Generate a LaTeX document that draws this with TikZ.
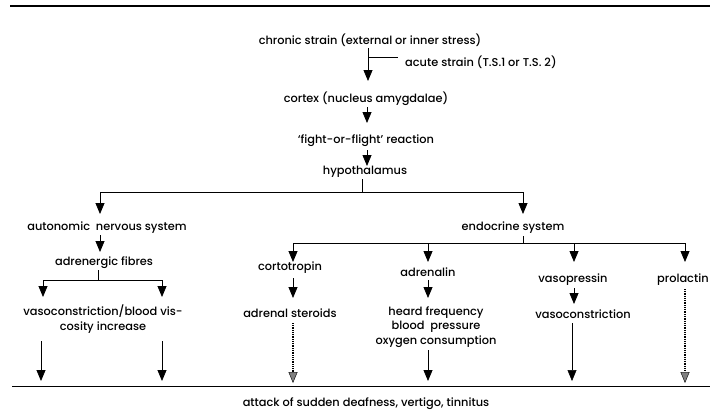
\documentclass[tikz,border=0pt]{standalone}
\usepackage{fontspec}
\setmainfont{Poppins}[UprightFont=* Medium]
\usetikzlibrary{arrows.meta}
\begin{document}
\begin{tikzpicture}[x=1bp,y=-1bp,
  lbl/.style={font=\fontsize{11.4}{14.5}\selectfont, inner sep=0pt, align=center},
  conn/.style={line width=0.8pt},
  arr/.style={conn,-{Triangle[width=9bp,length=11bp]}},
  thinarr/.style={line width=0.5pt,-{Triangle[width=9bp,length=11bp]}},
  darr/.style={line width=1.2pt, dash pattern=on 1pt off 0.8pt, -{Triangle[width=9bp,length=11bp,fill=gray,color=black,line width=0.4pt]}}]
\useasboundingbox (0,0) rectangle (710,413);
% frame lines
\coordinate (tl) at (10,6);  \coordinate (tr) at (710,6);
\coordinate (bl) at (12,386); \coordinate (br) at (710,386);
\draw[line width=1.2pt] (tl) -- (tr);
\draw[line width=1pt] (bl) -- (br);
% nodes
\node[lbl] (chronic) at (370,40) {chronic strain (external or inner stress)};
\node[lbl,anchor=west] (acute) at (405,62) {acute strain (T.S.1 or T.S. 2)};
\node[lbl] (cortex) at (366,99) {cortex (nucleus amygdalae)};
\node[lbl] (fight) at (366,141) {`fight-or-flight' reaction};
\node[lbl] (hypo) at (365,172) {hypothalamus};
\node[lbl] (ans) at (107,228) {autonomic\ \ nervous system};
\node[lbl] (endo) at (513,228) {endocrine system};
\node[lbl] (adrf) at (104,263) {adrenergic fibres};
\node[lbl] (vaso1) at (103,319) {vasoconstriction/blood vis-\\cosity increase};
\node[lbl] (cort) at (290,268) {cortotropin};
\node[lbl] (adren) at (428,272) {adrenalin};
\node[lbl] (vasop) at (573,280) {vasopressin};
\node[lbl,anchor=west] (prol) at (657,280) {prolactin};
\node[lbl] (adst) at (290,313) {adrenal steroids};
\node[lbl] (heard) at (436,327) {heard frequency\\blood\ \ pressure\\oxygen consumption};
\node[lbl] (vcon) at (583,314) {vasoconstriction};
\node[lbl] (attack) at (366,404) {attack of sudden deafness, vertigo, tinnitus};
% chronic -> cortex with acute branch
\draw[arr] (368,48) -- (368,81);
\draw[conn] (368,57) -- (398,57);
\draw[arr] (367,107) -- (367,123);
\draw[arr] (367,150) -- (367,166);
% hypothalamus split
\coordinate (hsplit) at (362,192);
\draw[conn] (362,179) -- (hsplit);
\draw[arr] (hsplit) -| (100,214);
\draw[arr] (hsplit) -| (523,214);
% autonomic branch
\draw[arr] (100,235) -- (100,252);
\draw[conn] (98,270) -- (98,280);
\draw[arr] (98,280) -| (43,297);
\draw[arr] (98,280) -| (162,297);
\draw[arr] (41,341) -- (41,381);
\draw[arr] (162,341) -- (162,381);
% endocrine branch
\draw[conn] (523,236) -- (523,243);
\draw[arr] (523,243) -| (293,262);
\draw[arr] (523,243) -| (428,262);
\draw[arr] (523,243) -| (574,262);
\draw[arr] (523,243) -| (685,262);
\draw[arr] (293,278) -- (293,298);
\draw[arr] (428,280) -- (428,298);
\draw[arr] (574,288) -- (574,304);
% to bottom
\draw[darr] (293,323) -- (293,383);
\draw[arr] (428,350) -- (428,381);
\draw[thinarr] (572,323) -- (572,381);
\draw[darr] (685,289) -- (685,383);
\end{tikzpicture}
\end{document}
